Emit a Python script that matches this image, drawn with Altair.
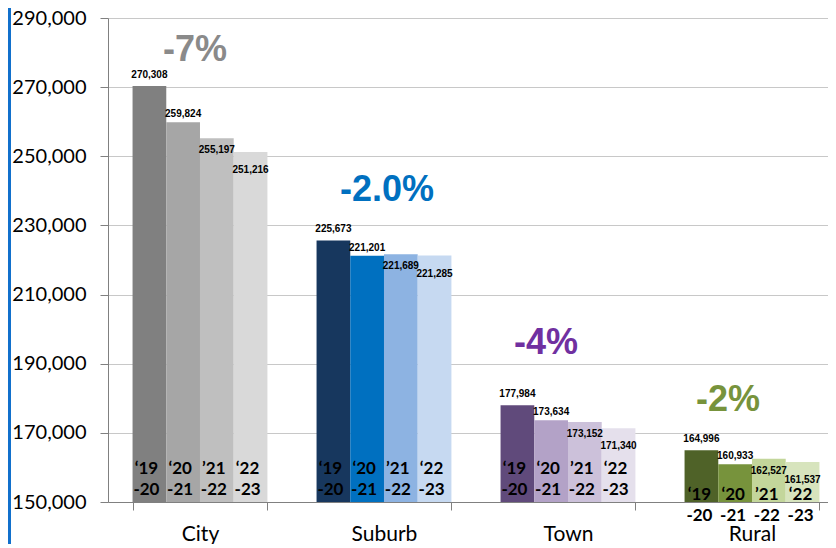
import altair as alt
import pandas as pd

categories = ["City", "Suburb", "Town", "Rural"]
periods = ["2019-20", "2020-21", "2021-22", "2022-23"]
period_labels = ["‘19\n-20", "‘20\n-21", "’21\n-22", "‘22\n-23"]
city = [270308, 259824, 255197, 251216]
suburb = [225673, 221201, 221689, 221285]
town = [177984, 173634, 173152, 171340]
rural = [164996, 160933, 162527, 161537]
changes = ["-7%", "-2.0%", "-4%", "-2%"]
change_y = [280700, 240200, 196000, 179500]
y_ticks = [150000, 170000, 190000, 210000, 230000, 250000, 270000, 290000]

palette = {
    "City": ["#808080", "#a6a6a6", "#bfbfbf", "#d9d9d9"],
    "Suburb": ["#17375e", "#0070c0", "#8db3e2", "#c6d9f1"],
    "Town": ["#604a7b", "#b3a2c7", "#ccc1da", "#e5e0ec"],
    "Rural": ["#4f6228", "#77933c", "#c3d69b", "#d7e4bd"],
}
change_colors = ["#8a8a8a", "#0070c0", "#7030a0", "#77933c"]
change_dx = [-5, 3, -22, -24]
value_dy = [-11, -8, 12, 18]

series = {"City": city, "Suburb": suburb, "Town": town, "Rural": rural}
rows = []
for c in categories:
    for i, p in enumerate(periods):
        rows.append({"cat": c, "period": p, "value": series[c][i],
                     "plabel": period_labels[i], "color": palette[c][i]})
df = pd.DataFrame(rows)

ann = pd.DataFrame({"cat": categories, "text": changes, "y": change_y,
                    "color": change_colors})

W, H = 720, 484
# the last category runs past the right edge of the picture, as in the reference
xscale = alt.Scale(domain=categories, paddingInner=0.267, paddingOuter=0.09, align=0.7413)
yscale = alt.Scale(domain=[150000, 290000], nice=False, zero=False)
xo_scale = alt.Scale(domain=periods, paddingInner=0, paddingOuter=0)

base = alt.Chart(df)

bars = base.mark_bar().encode(
    x=alt.X("cat:N", scale=xscale, sort=categories,
            axis=alt.Axis(title=None, tickBand="extent", tickSize=8, tickColor="#808080",
                          domainColor="#808080", labelFont="Lato", labelFontSize=21,
                          labelColor="#000000", labelPadding=13, labelAngle=0, grid=False)),
    xOffset=alt.XOffset("period:N", scale=xo_scale),
    y=alt.Y("value:Q", scale=yscale,
            axis=alt.Axis(title=None, values=y_ticks, format=",d", tickSize=8,
                          tickColor="#808080", domainColor="#808080", gridColor="#c8c8c8",
                          labelFont="Lato", labelFontSize=20, labelColor="#000000",
                          labelPadding=14)),
    y2=alt.datum(150000),
    color=alt.Color("color:N", scale=None),
)

layers = [bars]

for i, p in enumerate(periods):
    layers.append(
        base.transform_filter(alt.datum.period == p).mark_text(
            font="Liberation Sans", fontWeight="bold", fontSize=10, color="#000000",
            baseline="middle", dy=value_dy[i]
        ).encode(
            x=alt.X("cat:N", scale=xscale, sort=categories),
            xOffset=alt.XOffset("period:N", scale=xo_scale),
            y=alt.Y("value:Q", scale=yscale),
            text=alt.Text("value:Q", format=",d"),
        )
    )

layers.append(
    base.transform_filter(alt.datum.cat != "Rural").mark_text(
        font="Lato", fontWeight="bold", fontSize=17, color="#000000",
        baseline="middle", lineBreak="\n", lineHeight=21, dx=-3, dy=-33
    ).encode(
        x=alt.X("cat:N", scale=xscale, sort=categories),
        xOffset=alt.XOffset("period:N", scale=xo_scale),
        y=alt.datum(150000),
        text="plabel:N",
    )
)
layers.append(
    base.transform_filter(alt.datum.cat == "Rural").mark_text(
        font="Lato", fontWeight="bold", fontSize=17, color="#000000",
        baseline="middle", lineBreak="\n", lineHeight=21, dx=-2, dy=-7
    ).encode(
        x=alt.X("cat:N", scale=xscale, sort=categories),
        xOffset=alt.XOffset("period:N", scale=xo_scale),
        y=alt.datum(150000),
        text="plabel:N",
    )
)

for i, c in enumerate(categories):
    layers.append(
        alt.Chart(ann).transform_filter(alt.datum.cat == c).mark_text(
            font="Liberation Sans", fontWeight="bold", fontSize=36,
            baseline="middle", dx=change_dx[i]
        ).encode(
            x=alt.X("cat:N", scale=xscale, sort=categories),
            y=alt.Y("y:Q", scale=yscale),
            text="text:N",
            color=alt.Color("color:N", scale=None),
        )
    )

stripe = alt.Chart(pd.DataFrame({"a": [0]})).mark_rect(color="#1170cc").encode(
    x=alt.value(-100), x2=alt.value(-97), y=alt.value(-12), y2=alt.value(540)
)
layers.append(stripe)

chart = alt.layer(*layers).properties(
    width=W, height=H,
    autosize=alt.AutoSizeParams(type="none"),
    padding={"left": 100, "top": 10, "right": 0, "bottom": 42},
).configure_view(stroke=None)

chart.save("out.html", embed_options={"renderer": "svg", "actions": False})
